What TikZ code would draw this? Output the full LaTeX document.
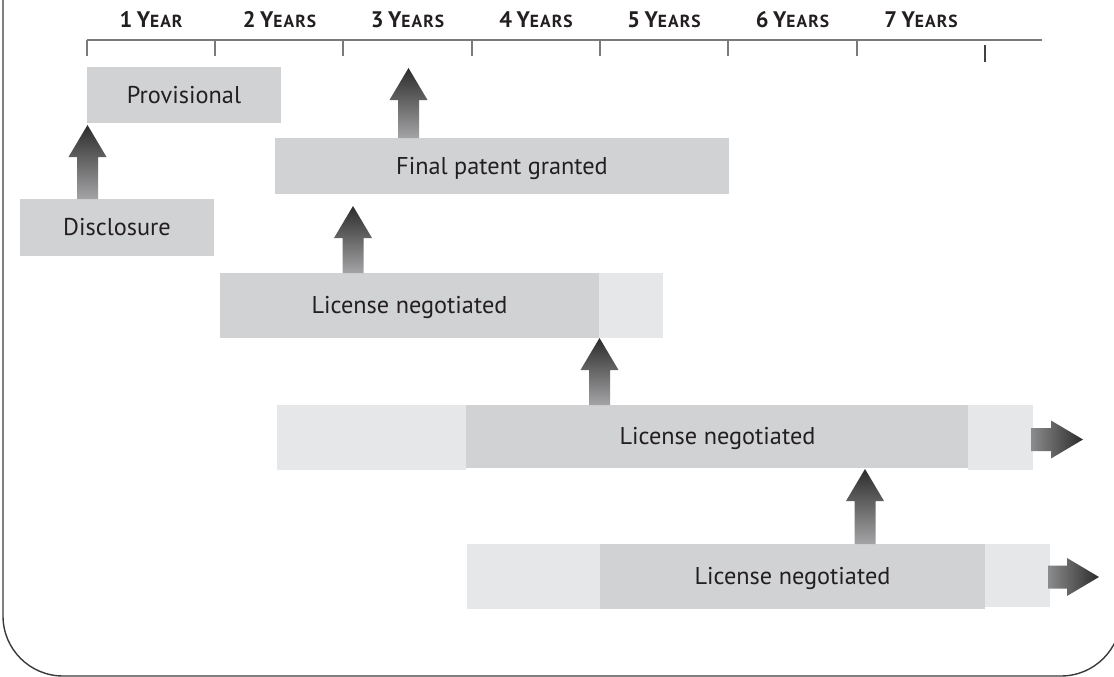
\documentclass[tikz,border=0pt]{standalone}
\usepackage{fontspec}
\setmainfont{PT Sans}
\usetikzlibrary{calc}

\definecolor{boxdark}{HTML}{D1D2D4}
\definecolor{boxlight}{HTML}{E6E7E8}
\definecolor{ink}{HTML}{231F20}
\definecolor{axisgray}{HTML}{7A7A7C}
\definecolor{framegray}{HTML}{3A3A3A}
\definecolor{arrowdark}{HTML}{2C2C2C}
\definecolor{arrowlight}{HTML}{A4A4A6}

% fat vertical arrow: #1 = x, #2 = start anchor, #3 = target anchor, #4 = gap below target
\newcommand\fatup[4]{%
  \shade[top color=arrowdark, bottom color=arrowlight]
    let \p1=(#2), \p2=(#3) in
    (#1pt-10.5pt,\y1) -- (#1pt-10.5pt,\y2-#4pt-32pt) -- (#1pt-19pt,\y2-#4pt-32pt)
    -- (#1pt,\y2-#4pt) -- (#1pt+19pt,\y2-#4pt-32pt) -- (#1pt+10.5pt,\y2-#4pt-32pt)
    -- (#1pt+10.5pt,\y1) -- cycle;}

% fat horizontal arrow: #1 = start anchor, #2 = tip coordinate
\newcommand\fatright[2]{%
  \shade[left color=arrowlight!85!black, right color=arrowdark]
    let \p1=(#1), \p2=(#2) in
    (\x1-2pt,\y2+11.5pt) -- (\x2-32pt,\y2+11.5pt) -- (\x2-32pt,\y2+19pt)
    -- (\x2,\y2) -- (\x2-32pt,\y2-19pt) -- (\x2-32pt,\y2-11.5pt)
    -- (\x1-2pt,\y2-11.5pt) -- cycle;}

% year label in bold small capitals
\newcommand\yearlabel[3]{{\addfontfeatures{LetterSpace=6}%
  \fontsize{22.5}{22.5}\selectfont #1\hspace{0.2em}#2\fontsize{17.5}{17.5}\selectfont #3}}

\begin{document}
\begin{tikzpicture}[x=1pt,y=-1pt,
  stage/.style={fill=boxdark, draw=none, inner sep=0pt, outer sep=0pt,
    anchor=north west, text=ink, font=\fontsize{24.3}{24.3}\selectfont,
    text height=16pt, text depth=0pt},
  extension/.style={stage, fill=boxlight},
  yearlbl/.style={anchor=base, inner sep=0pt, text=ink, font=\bfseries},
  axisline/.style={draw=axisgray, line width=1.1pt},
  tick/.style={draw=axisgray, line width=1.1pt}]

\useasboundingbox (0,0) rectangle (1114,677);
\clip (0,0) rectangle (1114,677);

% outer frame, open at the top
\draw[framegray, line width=1.4pt, rounded corners=60pt]
  (3,-20) -- (3,676) -- (1121,676) -- (1121,-20);

% time scale
\draw[axisline] (87,40) -- (1042,40);
\foreach \tx in {87,215,343,472,600,728,857}
  \draw[tick] (\tx,40) -- (\tx,56);
\draw[tick, draw=ink!85] (985,45) -- (985,62);

\node[yearlbl] (y1) at (151,28)   {\yearlabel{1}{Y}{EAR}};
\node[yearlbl] (y2) at (279.5,28) {\yearlabel{2}{Y}{EARS}};
\node[yearlbl] (y3) at (407.5,28) {\yearlabel{3}{Y}{EARS}};
\node[yearlbl] (y4) at (536,28)   {\yearlabel{4}{Y}{EARS}};
\node[yearlbl] (y5) at (664,28)   {\yearlabel{5}{Y}{EARS}};
\node[yearlbl] (y6) at (792.5,28) {\yearlabel{6}{Y}{EARS}};
\node[yearlbl] (y7) at (921,28)   {\yearlabel{7}{Y}{EARS}};

% stages
\node[stage, minimum width=194pt, minimum height=56pt] (prov) at (87,67) {Provisional};
\node[stage, minimum width=194pt, minimum height=57pt] (disc) at (20,199) {Disclosure};
\node[stage, minimum width=454pt, minimum height=56pt] (final) at (275,138) {Final patent granted};

\node[stage, minimum width=379pt, minimum height=65pt] (lic1) at (220,273) {License negotiated};
\node[extension, minimum width=64pt, minimum height=65pt] (lic1x) at (599,273) {};

\node[extension, minimum width=189pt, minimum height=65pt] (lic2w) at (277,405) {};
\node[stage, minimum width=503pt, minimum height=63pt] (lic2) at (466,405) {License negotiated};
\node[extension, minimum width=65pt, minimum height=65pt] (lic2x) at (968,405) {};

\node[extension, minimum width=134pt, minimum height=65pt] (lic3w) at (467,544) {};
\node[stage, minimum width=385pt, minimum height=65pt] (lic3) at (600,544) {License negotiated};
\node[extension, minimum width=65pt, minimum height=63pt] (lic3x) at (985,544) {};

% free ends of open arrows
\coordinate (yr3mark) at (408.5,68);
\coordinate (lic2end) at (1083,439.5);
\coordinate (lic3end) at (1099,577);

% progress arrows
\fatup{87.5}{disc.north}{prov.south}{2}
\fatup{408.5}{final.north}{yr3mark}{0}
\fatup{353}{lic1.north}{final.south}{12}
\fatup{599.5}{lic2.north}{lic1.south}{0}
\fatup{865}{lic3.north}{lic2.south}{1}

\fatright{lic2x.east}{lic2end}
\fatright{lic3x.east}{lic3end}
\end{tikzpicture}
\end{document}
